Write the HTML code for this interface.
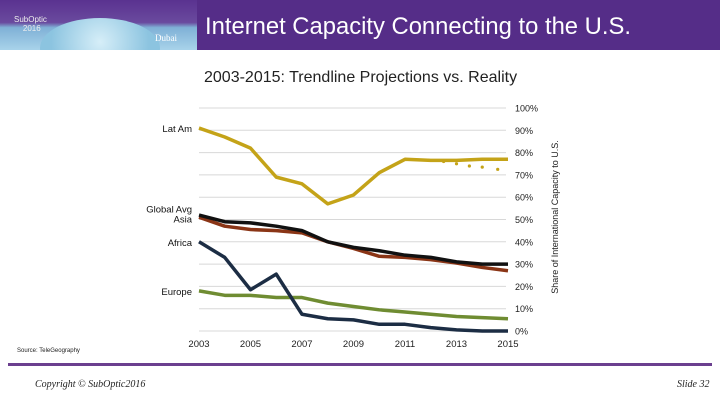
<!DOCTYPE html>
<html><head><meta charset="utf-8">
<style>
body{margin:0;width:720px;height:405px;background:#fff;overflow:hidden;font-family:"Liberation Sans",sans-serif;position:relative}
.abs{position:absolute}
</style></head><body>
<div class="abs" style="left:0;top:0;width:720px;height:50px;background:#552d88"></div>
<div class="abs" style="left:0;top:0;width:197px;height:50px;overflow:hidden;background:linear-gradient(180deg,#5a3290 0%,#6a4a9e 45%,#7fb0d6 55%,#a8d3ea 100%)">
  <div class="abs" style="left:40px;top:18px;width:120px;height:60px;border-radius:50%;background:radial-gradient(circle at 50% 40%,#d6eef8,#8cc4e0 70%)"></div>
  <div class="abs" style="left:14px;top:15px;font-size:8px;color:#eee">SubOptic<br>&nbsp;&nbsp;&nbsp;&nbsp;2016</div>
  <div class="abs" style="left:155px;top:33px;font-family:'Liberation Serif',serif;font-size:9px;color:#fff">Dubai</div>
</div>
<div class="abs" style="left:205px;top:13px;font-size:23.8px;color:#fff;white-space:nowrap">Internet Capacity Connecting to the U.S.</div>
<div class="abs" style="left:204px;top:69px;font-size:16px;color:#222;white-space:nowrap">2003-2015: Trendline Projections vs. Reality</div>
<svg class="abs" style="left:0;top:0" width="720" height="405" id="chart"></svg>
<div class="abs" style="left:17px;top:348px;font-size:6px;color:#222">Source: TeleGeography</div>
<div class="abs" style="left:8px;top:363px;width:704px;height:3px;background:#6b3f8f"></div>
<div class="abs" style="left:35px;top:379px;font-family:'Liberation Serif',serif;font-style:italic;font-size:10px;color:#222">Copyright © SubOptic2016</div>
<div class="abs" style="left:677px;top:379px;font-family:'Liberation Serif',serif;font-style:italic;font-size:10px;color:#222">Slide 32</div>
<script>
const years=[2003,2004,2005,2006,2007,2008,2009,2010,2011,2012,2013,2014,2015];
const latAm=[91,87,82,69,66,57,61,71,77,76.5,76.5,77,77];
const globalAvg=[52,49,48.5,47,45,40,37.5,36,34,33,31,30,30];
const asia=[51,47,45.5,45,44,40,37,33.5,33,32,30.5,28.5,27];
const africa=[40,33,18.5,25.5,7.5,5.5,5,3,3,1.5,0.5,0,0];
const europe=[18,16,16,15,15,12.5,11,9.5,8.5,7.5,6.5,6,5.5];
const projYears=[2012.5,2013,2013.5,2014,2014.6];
const latAmProj=[76,75,74,73.5,72.5];
const yTicks=[0,10,20,30,40,50,60,70,80,90,100];
const xTicks=[2003,2005,2007,2009,2011,2013,2015];
const seriesLabels=[["Lat Am",91],["Global Avg",55],["Asia",50.5],["Africa",40],["Europe",18]];

const svg=document.getElementById('chart');
const NS='http://www.w3.org/2000/svg';
const X=y=>199+(y-2003)*(508-199)/12;
const Y=v=>331-v*2.23;
function mk(tag,attrs){const e=document.createElementNS(NS,tag);for(const k in attrs)e.setAttribute(k,attrs[k]);svg.appendChild(e);return e;}
yTicks.forEach(t=>{
  const g=mk('line',{x1:199,x2:506,y1:Y(t),y2:Y(t),stroke:'#d8d8d8','stroke-width':1});
  
  
  const l=mk('text',{x:515,y:Y(t)+3.5,'font-size':9,fill:'#222'});
  l.textContent=t+'%';
  
  
});
xTicks.forEach(t=>{
  const l=mk('text',{x:X(t),y:347,'font-size':9.5,fill:'#222','text-anchor':'middle'});
  l.textContent=t;
  
  
});
const yt=mk('text',{x:0,y:0,'font-size':9,fill:'#222','text-anchor':'middle',transform:'translate(558,217) rotate(-90)'});
yt.textContent='Share of International Capacity to U.S.';


function line(vals,color,name,w){
  const p=mk('polyline',{points:vals.map((v,i)=>X(years[i])+','+Y(v)).join(' '),fill:'none',stroke:color,'stroke-width':w,'stroke-linejoin':'round'});
  
  
}
line(europe,'#6f8c32','line-europe',3.5);
line(africa,'#1c2d44','line-africa',3.5);
line(asia,'#8a3516','line-asia',3.5);
line(globalAvg,'#111','line-global-avg',3.5);
line(latAm,'#c4a318','line-lat-am',3.5);
projYears.forEach((yr,i)=>{
  const c=mk('circle',{cx:X(yr),cy:Y(latAmProj[i]),r:1.6,fill:'#c4a318'});
  
  
});
seriesLabels.forEach(([n,v])=>{
  const t=mk('text',{x:192,y:Y(v)+4,'font-size':9.5,fill:'#111','text-anchor':'end'});
  t.textContent=n;
  
  
});
</script>
</body></html>
